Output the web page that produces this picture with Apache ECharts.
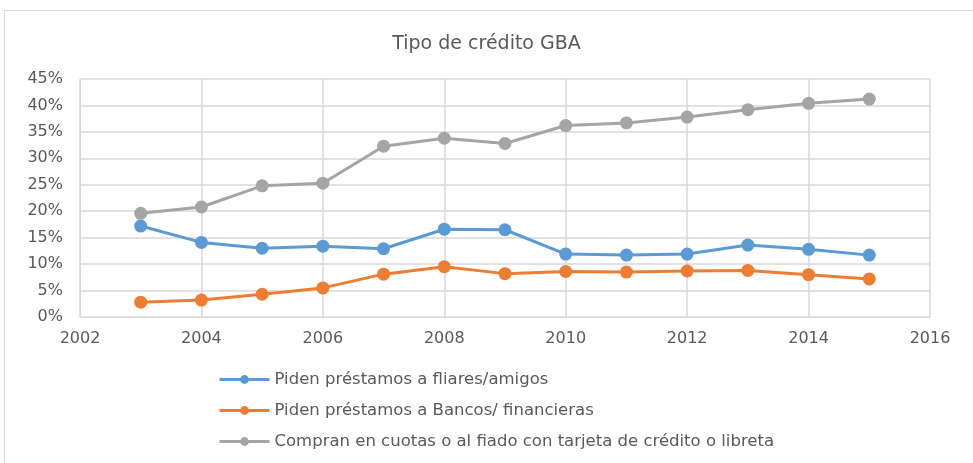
<!DOCTYPE html>
<html>
<head>
<meta charset="utf-8">
<script src="https://cdn.jsdelivr.net/npm/echarts@6/dist/echarts.min.js"></script>
<style>
    html, body { margin: 0; padding: 0; background: #fff; }
    #chart { width: 973px; height: 463px; }
</style>
</head>
<body>
<div id="chart"></div>
<script>
// datos
const years = [2003, 2004, 2005, 2006, 2007, 2008, 2009, 2010, 2011, 2012, 2013, 2014, 2015];
const familiares = [17.2, 14.1, 13.0, 13.4, 12.9, 16.6, 16.5, 11.9, 11.7, 11.9, 13.6, 12.8, 11.7];
const bancos = [2.8, 3.2, 4.3, 5.5, 8.1, 9.5, 8.2, 8.6, 8.5, 8.7, 8.8, 8.0, 7.2];
const cuotas = [19.6, 20.8, 24.8, 25.3, 32.3, 33.8, 32.8, 36.2, 36.7, 37.8, 39.2, 40.4, 41.2];
const seriesNames = [
    "Piden préstamos a fliares/amigos",
    "Piden préstamos a Bancos/ financieras",
    "Compran en cuotas o al fiado con tarjeta de crédito o libreta",
];
const colors = ["#5B9BD5", "#ED7D31", "#A5A5A5"];
const font = "'DejaVu Sans'";

const chart = echarts.init(document.getElementById("chart"));

function makeSeries(name, values, color) {
    return {
        name: name,
        type: "line",
        data: years.map((y, i) => [y, values[i]]),
        symbol: "circle",
        symbolSize: 13,
        lineStyle: { color: color, width: 3 },
        itemStyle: { color: color },
    };
}

const option = {
    backgroundColor: "#fff",
    animation: false,
    textStyle: { fontFamily: font },
    title: {
        text: "Tipo de crédito GBA",
        left: "center",
        top: 30,
        textStyle: { fontSize: 19, fontWeight: "normal", color: "#595959", fontFamily: font },
    },
    graphic: [
        {
            type: "rect",
            shape: { x: 4.5, y: 10.5, width: 1000, height: 500 },
            style: { fill: "none", stroke: "#D9D9D9", lineWidth: 1 },
            silent: true,
        },
    ],
    legend: {
        orient: "vertical",
        left: 213,
        top: 366,
        itemGap: 14,
        itemWidth: 50,
        itemHeight: 11,
        data: seriesNames,
        lineStyle: { width: 3 },
        textStyle: { fontSize: 16.5, color: "#595959", fontFamily: font },
    },
    grid: {
        left: 80,
        right: 43,
        top: 79,
        bottom: 146,
    },
    xAxis: {
        type: "value",
        min: 2002,
        max: 2016,
        interval: 2,
        axisLine: { show: true, lineStyle: { color: "#D9D9D9" } },
        axisTick: { show: false },
        axisLabel: { fontSize: 16, color: "#595959", margin: 14, fontFamily: font, formatter: (v) => String(v) },
        splitLine: { show: true, lineStyle: { color: "#D9D9D9", width: 1.5 } },
    },
    yAxis: {
        type: "value",
        min: 0,
        max: 45,
        interval: 5,
        axisLine: { show: true, lineStyle: { color: "#D9D9D9" } },
        axisTick: { show: false },
        axisLabel: { fontSize: 16, color: "#595959", fontFamily: font, formatter: "{value}%", margin: 17 },
        splitLine: { show: true, lineStyle: { color: "#D9D9D9", width: 1.5 } },
    },
    series: [
        makeSeries(seriesNames[0], familiares, colors[0]),
        makeSeries(seriesNames[1], bancos, colors[1]),
        makeSeries(seriesNames[2], cuotas, colors[2]),
    ],
};

chart.setOption(option);
</script>
</body>
</html>
